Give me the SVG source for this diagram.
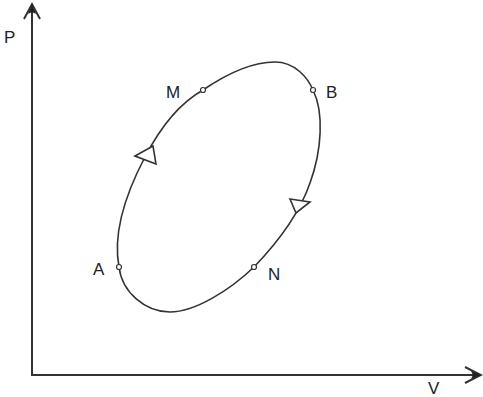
<svg xmlns="http://www.w3.org/2000/svg" width="483" height="397" viewBox="0 0 483 397">
<style>
.axis{stroke:#333;stroke-width:2;fill:none}
.curve{stroke:#333;stroke-width:1.6;fill:none}
.pt{stroke:#333;stroke-width:1.2;fill:#fff}
.tri{stroke:#333;stroke-width:1.6;fill:#fff;stroke-linejoin:miter}
.lbl{font-family:"Liberation Sans",Arial,sans-serif;font-size:17px;fill:#222}
</style>
<rect width="483" height="397" fill="#fff"/>
<g id="axes">
<path class="axis" d="M32,6 L32,375 L479,375"/>
<path class="axis" d="M24,19 L32,4 L40,19"/>
<path d="M32,4 L36,14 L32,12 L28,14 Z" fill="#222"/>
<path class="axis" d="M465,367 L481,375 L465,383"/>
<path d="M481,375 L471,371 L473,375 L471,379 Z" fill="#222"/>
</g>
<g id="cycle">
<path class="curve" d="M119,267 C113,235 125,195 145,157 C160,128 180,103 203,90 C225,75 250,62 275,62 C295,62 308,78 313,90 C324,112 322,150 310,183 C300,212 280,240 254,267 C230,290 195,312 170,312 C145,312 122,292 119,267 Z"/>
</g>
<g id="arrows">
<polygon class="tri" points="135,156 153,146 156,164"/>
<polygon class="tri" points="290,199 310,202 296,213"/>
</g>
<g id="node-M"><circle class="pt" cx="203" cy="90" r="2.5"/><text class="lbl" x="166" y="98">M</text></g>
<g id="node-B"><circle class="pt" cx="313" cy="90" r="2.5"/><text class="lbl" x="326" y="98">B</text></g>
<g id="node-A"><circle class="pt" cx="119" cy="267" r="2.5"/><text class="lbl" x="93" y="275">A</text></g>
<g id="node-N"><circle class="pt" cx="254" cy="267" r="2.5"/><text class="lbl" x="268" y="280">N</text></g>
<g id="label-P"><text class="lbl" x="4" y="43">P</text></g>
<g id="label-V"><text class="lbl" x="428" y="394">V</text></g>
</svg>
